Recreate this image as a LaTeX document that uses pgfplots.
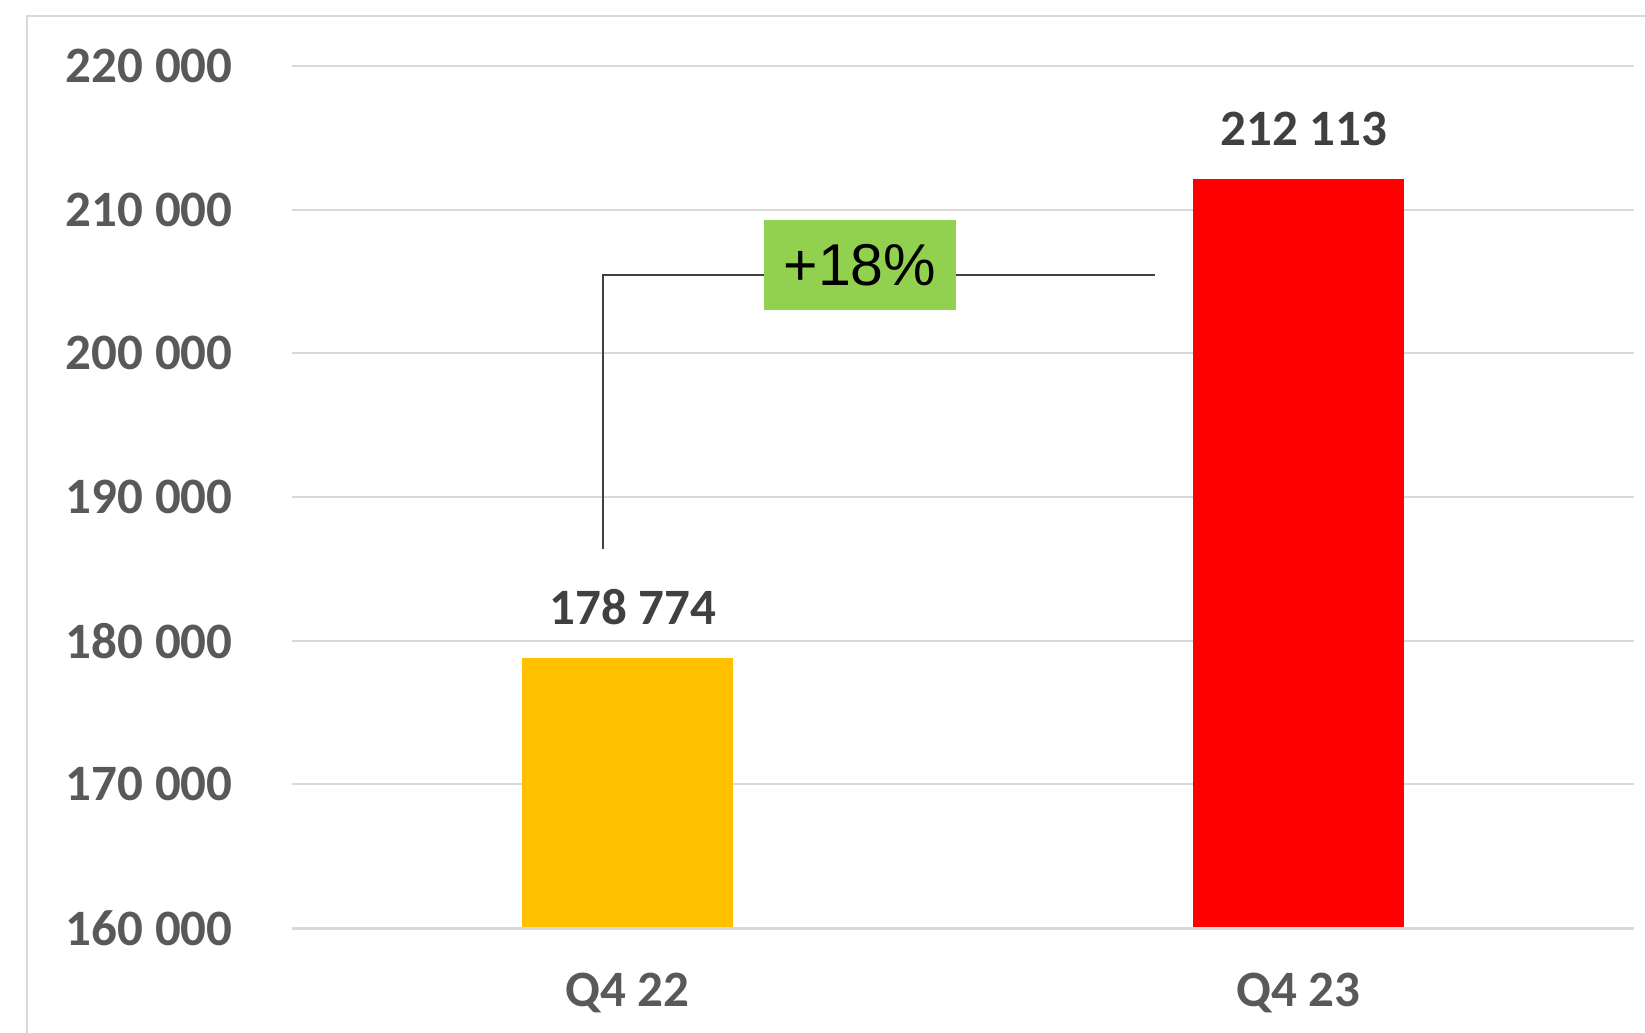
\documentclass[border=0pt]{standalone}
\usepackage{pgfplots}
\pgfplotsset{compat=1.18}
\usepackage{fontspec}
\setmainfont{Carlito}
\newfontfamily\arialfont{Liberation Sans}
\definecolor{gridgray}{HTML}{D9D9D9}
\definecolor{ticktext}{HTML}{595959}
\definecolor{labtext}{HTML}{404040}
\definecolor{baryellow}{HTML}{FFC000}
\definecolor{barred}{HTML}{FF0000}
\definecolor{boxgreen}{HTML}{92D050}
\definecolor{conn}{HTML}{404040}
\begin{document}
\begin{tikzpicture}
\useasboundingbox (-146bp,-52.5bp) rectangle (676.5bp,464bp);
\fill[white] (-146bp,-52.5bp) rectangle (676.5bp,464bp);
\draw[gridgray, line width=1.2bp] (-132.5bp,-60bp) -- (-132.5bp,456bp) -- (700bp,456bp);
\begin{axis}[
  scale only axis,
  width=671bp, height=431bp,
  xmin=-0.5, xmax=1.5,
  ymin=160000, ymax=220000,
  scaled y ticks=false,
  xtick={0,1},
  xticklabels={Q4 22, Q4 23},
  ytick={160000,170000,180000,190000,200000,210000,220000},
  yticklabels={160 000,170 000,180 000,190 000,200 000,210 000,220 000},
  major tick length=0pt,
  axis line style={draw=none},
  ymajorgrids,
  grid style={gridgray, line width=1.1bp},
  tick label style={font=\fontsize{25.5bp}{29bp}\selectfont\bfseries, text=ticktext, inner sep=0pt},
  yticklabel style={anchor=east, xshift=-29.5bp},
  xticklabel style={anchor=north, yshift=-22.5bp},
  ybar, bar width=0.315, bar shift=0pt,
  nodes near coords,
  point meta=explicit symbolic,
  every node near coord/.append style={font=\fontsize{25.5bp}{29bp}\selectfont\bfseries, text=labtext, anchor=base, inner sep=0pt, yshift=17bp, xshift=2.8bp},
  clip=false,
]
\addplot[fill=baryellow, draw=none] coordinates {(0,178774) [178 774]};
\addplot[fill=barred, draw=none] coordinates {(1,212113) [212 113]};
\draw[gridgray, line width=1.5bp] (axis cs:-0.5,160000) -- (axis cs:1.5,160000);
\draw[conn, line width=0.9bp] (axis cs:-0.0365,186388) |- (axis cs:0.786,205456);
\node[fill=boxgreen, minimum width=96bp, minimum height=45bp, inner sep=0pt, font=\arialfont\fontsize{29.5bp}{34bp}\selectfont, text=black] at (axis cs:0.3465,206152) {+18\%};
\end{axis}
\end{tikzpicture}
\end{document}
